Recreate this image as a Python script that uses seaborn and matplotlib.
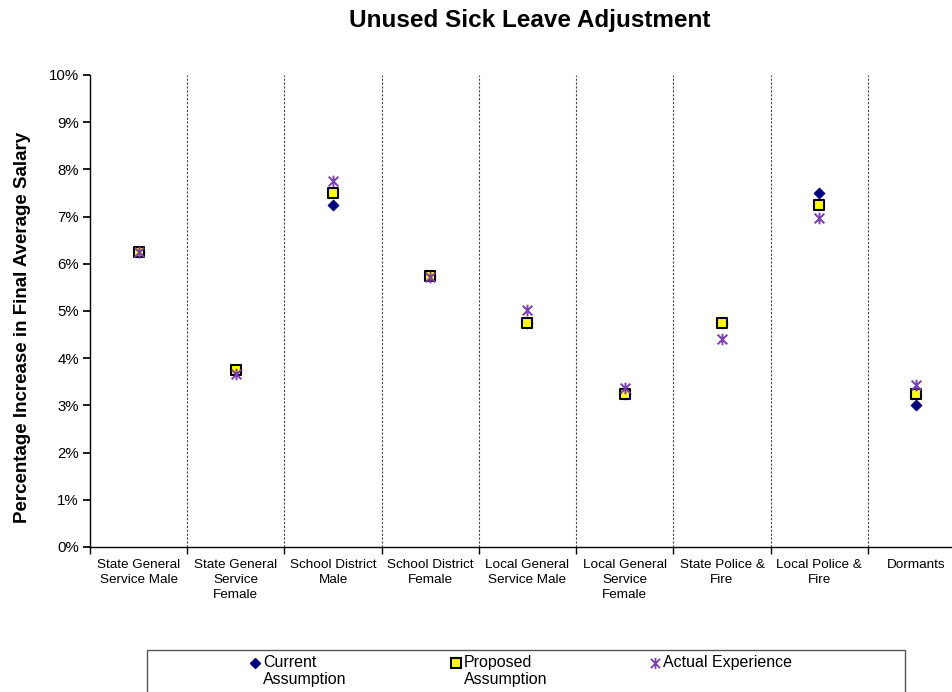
import matplotlib
matplotlib.use("Agg")
import matplotlib.pyplot as plt
from matplotlib.path import Path
from matplotlib.lines import Line2D
from matplotlib.patches import Rectangle
from matplotlib.ticker import MultipleLocator, FuncFormatter, FixedLocator
import seaborn as sns
import pandas as pd

categories = [
    "State General\nService Male",
    "State General\nService\nFemale",
    "School District\nMale",
    "School District\nFemale",
    "Local General\nService Male",
    "Local General\nService\nFemale",
    "State Police &\nFire",
    "Local Police &\nFire",
    "Dormants",
]
current_assumption = [6.25, 3.75, 7.25, 5.75, 4.75, 3.25, 4.75, 7.50, 3.00]
proposed_assumption = [6.25, 3.75, 7.50, 5.75, 4.75, 3.25, 4.75, 7.25, 3.25]
actual_experience = [6.25, 3.67, 7.75, 5.72, 5.02, 3.37, 4.41, 6.97, 3.43]
series_labels = ["Current\nAssumption", "Proposed\nAssumption", "Actual Experience"]

sns.set_theme(style="white")
plt.rcParams["font.family"] = ["Liberation Sans", "DejaVu Sans"]
plt.rcParams["text.color"] = "black"
plt.rcParams["axes.labelcolor"] = "black"
plt.rcParams["xtick.color"] = "black"
plt.rcParams["ytick.color"] = "black"

# asterisk: an X crossed by a vertical stroke
star = Path(
    [(-1, -1), (1, 1), (-1, 1), (1, -1), (0, -1.2), (0, 1.2)],
    [Path.MOVETO, Path.LINETO, Path.MOVETO, Path.LINETO, Path.MOVETO, Path.LINETO],
)

NAVY = "#000080"
PURPLE = "#7B3FB5"

W, H = 953, 692
fig = plt.figure(figsize=(W / 100, H / 100), dpi=100)
ax = fig.add_axes([90 / W, 1 - 547 / H, (965 - 90) / W, (547 - 75) / H])

df = pd.DataFrame({
    "cat": categories,
    "cur": current_assumption,
    "prop": proposed_assumption,
    "act": actual_experience,
})

sns.scatterplot(data=df, x="cat", y="cur", marker="D", s=32, color=NAVY,
                edgecolor=NAVY, linewidth=0.5, ax=ax, zorder=3)
sns.scatterplot(data=df, x="cat", y="prop", marker="s", s=60, color="#FFFF00",
                edgecolor="black", linewidth=1.5, ax=ax, zorder=4)
sns.scatterplot(data=df, x="cat", y="act", marker=star, s=70, color=PURPLE,
                edgecolor=PURPLE, linewidth=1.4, ax=ax, zorder=5)

ax.set_xlim(-0.5, len(categories) - 0.5)
ax.set_ylim(0, 10)
ax.yaxis.set_major_locator(MultipleLocator(1))
ax.yaxis.set_major_formatter(FuncFormatter(lambda v, p: f"{v:.0f}%"))

# dashed separators between groups
for i in range(len(categories) - 1):
    ax.axvline(i + 0.5, color="#444444", linestyle=(0, (2, 1.5)), linewidth=0.8, zorder=1)

for side in ["top", "right"]:
    ax.spines[side].set_visible(False)
for side in ["left", "bottom"]:
    ax.spines[side].set_color("black")
    ax.spines[side].set_linewidth(1.0)

ax.set_xticks(range(len(categories)))
ax.set_xticklabels(categories, fontsize=9.7, va="top", linespacing=1.3)
ax.tick_params(axis="x", which="major", length=0, pad=9)
ax.xaxis.set_minor_locator(FixedLocator([i - 0.5 for i in range(len(categories) + 1)]))
ax.tick_params(axis="x", which="minor", length=5, direction="out", color="black", bottom=True)
ax.tick_params(axis="y", length=5, direction="out", color="black", left=True, labelsize=10.8, pad=3)

ax.set_xlabel("")
ax.set_ylabel("Percentage Increase in Final Average Salary", fontsize=13.5,
              fontweight="bold")
ax.yaxis.set_label_coords((31 - 90) / 875, (547 - 327) / 472)

fig.text(530 / W, 1 - 20 / H, "Unused Sick Leave Adjustment", ha="center", va="center",
         fontsize=17.5, fontweight="bold")

# legend frame and entries
fig.patches.append(Rectangle((147 / W, -0.05), (905 - 147) / W, 0.05 + (692 - 650) / H,
                             transform=fig.transFigure, fill=False, edgecolor="#555555",
                             linewidth=1.0))
legend_styles = [
    dict(marker="D", markersize=5, color=NAVY),
    dict(marker="s", markersize=7, markerfacecolor="#FFFF00", markeredgecolor="black",
         markeredgewidth=1.5),
    dict(marker=star, markersize=8, color=PURPLE, markeredgewidth=1.3),
]
legend_x = [255, 456, 655]
for x, label, style in zip(legend_x, series_labels, legend_styles):
    fig.add_artist(Line2D([x / W], [1 - 663 / H], transform=fig.transFigure,
                          linestyle="none", **style))
    fig.text((x + 8) / W, 1 - 655 / H, label, ha="left", va="top", fontsize=11.5,
             linespacing=1.15)

fig.savefig("out.png", dpi=100)
